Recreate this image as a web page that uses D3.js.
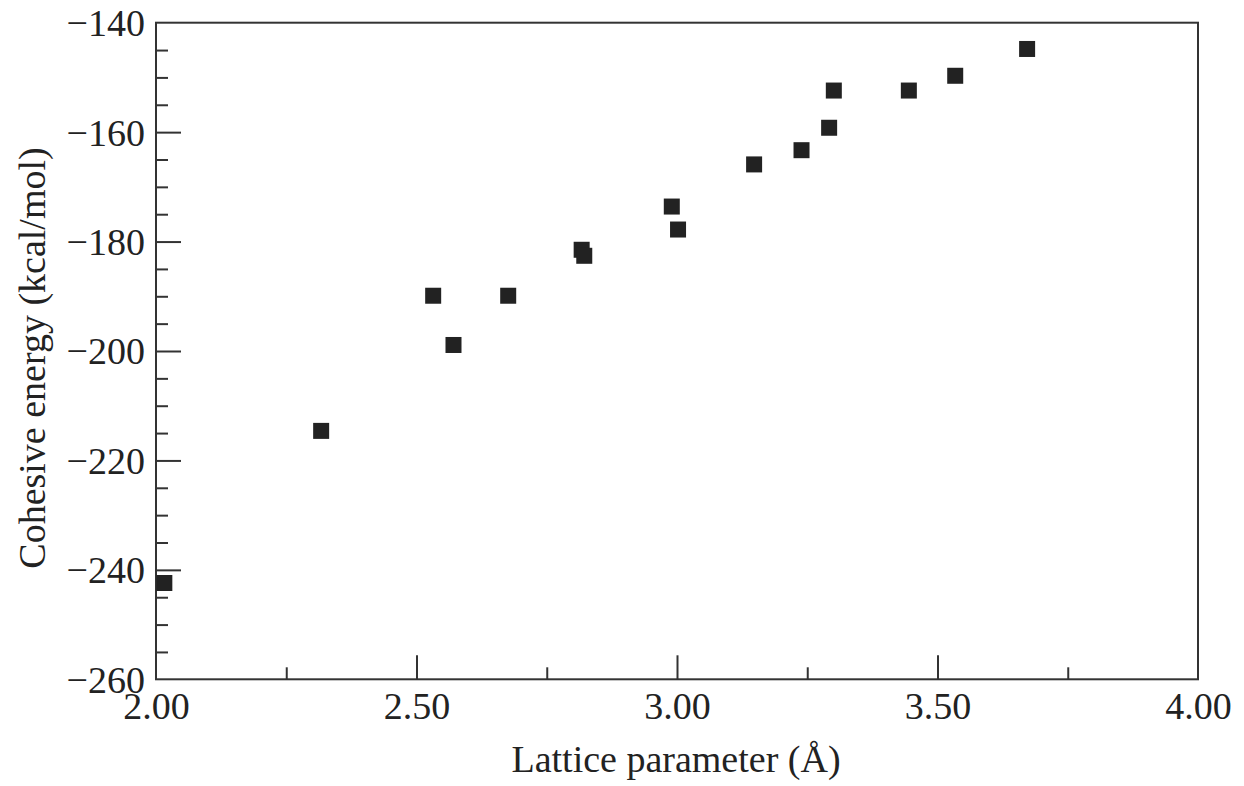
<!DOCTYPE html>
<html>
<head>
<meta charset="utf-8">
<script src="https://cdn.jsdelivr.net/npm/d3@7"></script>
<style>
  html, body { margin: 0; padding: 0; background: #fff; }
  svg text { font-family: "Liberation Serif", "DejaVu Serif", serif; fill: #222; }
</style>
</head>
<body>
<svg id="chart" width="1244" height="786"></svg>
<script>
// Lattice parameter (Å) and cohesive energy (kcal/mol) per element
const latticeParam = [2.016, 2.317, 2.532, 2.571, 2.676, 2.817, 2.822, 2.990, 3.002,
                      3.148, 3.239, 3.292, 3.301, 3.445, 3.534, 3.672];
const cohesiveEnergy = [-242.4, -214.6, -189.9, -198.9, -189.9, -181.5, -182.6, -173.6, -177.8,
                        -165.9, -163.3, -159.2, -152.4, -152.4, -149.7, -144.8];
const xTickValues = [2.00, 2.50, 3.00, 3.50, 4.00];
const xMinorTicks = [2.25, 2.75, 3.25, 3.75];
const yTickValues = [-140, -160, -180, -200, -220, -240, -260];
const yMinorTicks = d3.range(-260, -139, 5).filter(v => v % 20 !== 0);
const xTitle = "Lattice parameter (Å)";
const yTitle = "Cohesive energy (kcal/mol)";

const svg = d3.select("#chart");
const plotLeft = 156, plotRight = 1198, plotTop = 22.7, plotBottom = 679.3;
const ink = "#333";
const fontSize = 38;

const x = d3.scaleLinear().domain([2.0, 4.0]).range([plotLeft, plotRight]);
const y = d3.scaleLinear().domain([-260, -140]).range([plotBottom, plotTop]);

// frame
svg.append("rect")
  .attr("x", plotLeft).attr("y", plotTop)
  .attr("width", plotRight - plotLeft).attr("height", plotBottom - plotTop)
  .attr("fill", "none").attr("stroke", ink).attr("stroke-width", 2);

// x axis: inward ticks, labels below
const xAxis = d3.axisBottom(x).tickValues(xTickValues)
  .tickSize(-24).tickPadding(40).tickFormat(d3.format(".2f"));
const gx = svg.append("g").attr("transform", `translate(0,${plotBottom})`).call(xAxis);
gx.select(".domain").remove();
gx.selectAll(".tick line").attr("stroke", ink).attr("stroke-width", 2);
gx.selectAll(".tick text").attr("font-size", fontSize).attr("dy", "0").attr("y", 40);
gx.selectAll(".tick").filter(d => d === 2.0 || d === 4.0).select("line").remove();

const gxm = svg.append("g").attr("transform", `translate(0,${plotBottom})`)
  .call(d3.axisBottom(x).tickValues(xMinorTicks).tickSize(-12).tickFormat(""));
gxm.select(".domain").remove();
gxm.selectAll(".tick line").attr("stroke", ink).attr("stroke-width", 2);

// y axis: inward ticks on the left, labels outside
const yAxis = d3.axisLeft(y).tickValues(yTickValues)
  .tickSize(-25).tickPadding(12).tickFormat(d => "\u2212" + Math.abs(d));
const gy = svg.append("g").attr("transform", `translate(${plotLeft},0)`).call(yAxis);
gy.select(".domain").remove();
gy.selectAll(".tick line").attr("stroke", ink).attr("stroke-width", 2);
gy.selectAll(".tick text").attr("font-size", fontSize).attr("x", -11).attr("dy", "0.34em");
gy.selectAll(".tick").filter(d => d === -140 || d === -260).select("line").remove();

const gym = svg.append("g").attr("transform", `translate(${plotLeft},0)`)
  .call(d3.axisLeft(y).tickValues(yMinorTicks).tickSize(-12).tickFormat(""));
gym.select(".domain").remove();
gym.selectAll(".tick line").attr("stroke", ink).attr("stroke-width", 2);

// axis titles
svg.append("text")
  .attr("x", 676).attr("y", 772)
  .attr("text-anchor", "middle").attr("font-size", fontSize)
  .text(xTitle);

svg.append("text")
  .attr("transform", `translate(45,358) rotate(-90)`)
  .attr("text-anchor", "middle").attr("font-size", fontSize)
  .text(yTitle);

// data markers: filled squares
const size = 16;
const pts = latticeParam.map((v, i) => ({ a: v, e: cohesiveEnergy[i] }));
svg.append("g").selectAll("rect").data(pts).join("rect")
  .attr("x", d => x(d.a) - size / 2)
  .attr("y", d => y(d.e) - size / 2)
  .attr("width", size).attr("height", size)
  .attr("fill", "#222");
</script>
</body>
</html>
